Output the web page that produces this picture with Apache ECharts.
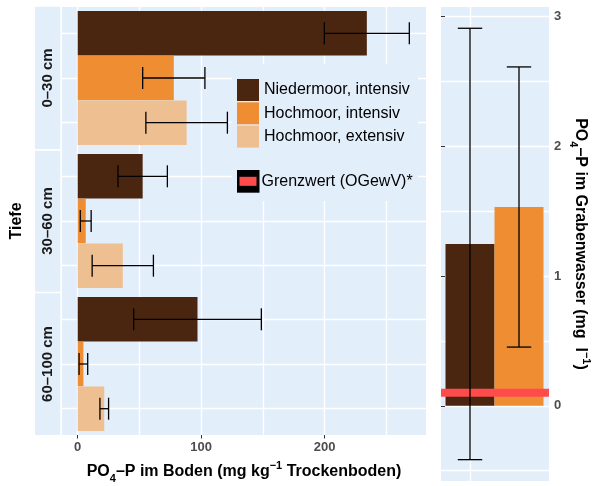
<!DOCTYPE html>
<html>
<head>
<meta charset="utf-8">
<script src="https://cdn.jsdelivr.net/npm/echarts@6/dist/echarts.min.js"></script>
<style>
html,body{margin:0;padding:0;background:#fff;}
#chart{width:592px;height:486px;}
</style>
</head>
<body>
<div id="chart"></div>
<script>
// ---- data ----
const depthLabels = ['0–30 cm', '30–60 cm', '60–100 cm'];
const moorTypes = ['Niedermoor, intensiv', 'Hochmoor, intensiv', 'Hochmoor, extensiv'];
// soil PO4-P (mg/kg) per depth
const soilNieder = [234.1, 52.6, 97.0];
const soilNiederErr = [34.4, 20.0, 51.7];
const soilHochInt = [77.8, 6.5, 4.6];
const soilHochIntErr = [25.2, 4.4, 3.5];
const soilHochExt = [88.2, 36.5, 21.5];
const soilHochExtErr = [33.0, 24.8, 3.5];
// ditch water PO4-P (mg/l)
const waterTypes = ['Niedermoor, intensiv', 'Hochmoor, intensiv'];
const waterMean = [1.247, 1.532];
const waterErr = [1.663, 1.08];
const grenzwert = 0.1;
const grenzwertName = 'Grenzwert (OGewV)*';
const soilTicks = [0, 100, 200];
const waterTicks = [0, 1, 2, 3];

// ---- styles ----
const FONT = '"Liberation Sans", Arial, Helvetica, sans-serif';
const BG = '#E3EEFB';
const COLORS = ['#4A2611', '#EE8D31', '#EEBF90'];
const RED = '#FF4B4B';
const GRIDW = 1.4;

const soilMeans = [soilNieder, soilHochInt, soilHochExt];
const soilErrs = [soilNiederErr, soilHochIntErr, soilHochExtErr];

const facetTops = [33.3, 176.3, 319.3];
const facetH = 89.4;

const grids = [
  {left: 62, top: 7, width: 364, height: 428, show: true, backgroundColor: BG, borderWidth: 0},   // 0 bg left
  {left: 77.7, top: 7, width: 308.75, height: 428},   // 1 vertical gridlines
  {left: 77.7, top: 7, width: 247, height: 428},      // 2 ticks + labels
];
facetTops.forEach(t => grids.push({left: 62, top: t, width: 364, height: facetH})); // 3,4,5
grids.push({left: 441, top: 7, width: 108, height: 474, show: true, backgroundColor: BG, borderWidth: 0}); // 6 bg right
grids.push({left: 441, top: 16.7, width: 108, height: 453.95}); // 7 horizontal gridlines
grids.push({left: 441, top: 16.7, width: 108, height: 389.1});  // 8 ticks + labels
grids.push({left: 470, top: 7, width: 49, height: 474});        // 9 bars
grids.forEach(g => { g.containLabel = false; g.outerBoundsMode = 'none'; });

const hidden = {axisLine: {show: false}, axisTick: {show: false}, axisLabel: {show: false}};
const white = {show: true, lineStyle: {color: '#FFFFFF', width: GRIDW}};

const xAxes = [
  {gridIndex: 0, type: 'value', show: false},
  Object.assign({gridIndex: 1, type: 'value', min: 0, max: 250, interval: 50, splitLine: white}, hidden),
  {gridIndex: 2, type: 'value', min: 0, max: 200, interval: 100, position: 'bottom',
   axisLine: {show: false}, splitLine: {show: false},
   axisTick: {show: true, length: 3.5, lineStyle: {color: '#333333', width: 1}},
   axisLabel: {color: '#4D4D4D', fontWeight: 'bold', fontSize: 13, margin: 6, fontFamily: FONT,
               formatter: v => soilTicks.indexOf(v) >= 0 ? String(v) : ''}},
];
const yAxes = [
  {gridIndex: 0, type: 'value', show: false},
  {gridIndex: 1, type: 'value', show: false},
  {gridIndex: 2, type: 'value', show: false},
];
for (let f = 0; f < 3; f++) {
  xAxes.push({gridIndex: 3 + f, type: 'value', min: -12.71, max: 282.0, show: false});
  yAxes.push(Object.assign({gridIndex: 3 + f, type: 'category', data: moorTypes, inverse: true,
    boundaryGap: false, splitLine: white}, hidden));
}
xAxes.push({gridIndex: 6, type: 'value', show: false});
yAxes.push({gridIndex: 6, type: 'value', show: false});
xAxes.push({gridIndex: 7, type: 'value', min: 0, max: 1, show: false});
yAxes.push(Object.assign({gridIndex: 7, type: 'value', min: -0.5, max: 3, interval: 0.5, splitLine: white}, hidden));
xAxes.push({gridIndex: 8, type: 'value', show: false});
yAxes.push({gridIndex: 8, type: 'value', min: 0, max: 3, interval: 1, position: 'right',
  axisLine: {show: false}, splitLine: {show: false},
  axisTick: {show: true, length: 4, lineStyle: {color: '#333333', width: 1}},
  axisLabel: {color: '#4D4D4D', fontWeight: 'bold', fontSize: 13, margin: 5, fontFamily: FONT,
              formatter: v => waterTicks.indexOf(v) >= 0 ? String(v) : ''}});
xAxes.push(Object.assign({gridIndex: 9, type: 'category', data: waterTypes, boundaryGap: false, splitLine: white}, hidden));
yAxes.push({gridIndex: 9, type: 'value', min: -0.5806, max: 3.074, show: false});

const series = [];
// soil bars
for (let f = 0; f < 3; f++) {
  for (let j = 0; j < 3; j++) {
    series.push({
      type: 'bar', name: moorTypes[j], xAxisIndex: 3 + f, yAxisIndex: 3 + f,
      data: moorTypes.map((_, k) => k === j ? soilMeans[j][f] : '-'),
      barWidth: 44.6, barGap: '-100%', clip: false, silent: true, z: 2,
      itemStyle: {color: COLORS[j]}
    });
  }
}
// water bars
waterTypes.forEach((name, j) => {
  series.push({
    type: 'bar', name: name, xAxisIndex: 9, yAxisIndex: 9,
    data: waterTypes.map((_, k) => k === j ? waterMean[j] : '-'),
    barWidth: 49, barGap: '-100%', clip: false, silent: true, z: 2,
    itemStyle: {color: COLORS[j]}
  });
});
// Grenzwert line
series.push({
  type: 'custom', name: grenzwertName, xAxisIndex: 7, yAxisIndex: 7, z: 3, silent: true,
  itemStyle: {color: RED},
  data: [[0, grenzwert]], encode: {x: 0, y: 1},
  renderItem: (params, api) => {
    const y = api.coord([0, api.value(1)])[1];
    const cs = params.coordSys;
    return {type: 'rect', shape: {x: cs.x, y: y - 4, width: cs.width, height: 8}, style: {fill: RED}};
  }
});
const ebStyle = {stroke: '#000000', lineWidth: 1.3};
// soil error bars
for (let f = 0; f < 3; f++) {
  series.push({
    type: 'custom', xAxisIndex: 3 + f, yAxisIndex: 3 + f, z: 4, silent: true,
    data: moorTypes.map((_, j) => [soilMeans[j][f] - soilErrs[j][f], soilMeans[j][f] + soilErrs[j][f], j]),
    encode: {x: [0, 1], y: 2},
    renderItem: (params, api) => {
      const lo = api.coord([api.value(0), api.value(2)]);
      const hi = api.coord([api.value(1), api.value(2)]);
      const h = 11;
      return {type: 'group', children: [
        {type: 'line', shape: {x1: lo[0], y1: lo[1], x2: hi[0], y2: hi[1]}, style: ebStyle},
        {type: 'line', shape: {x1: lo[0], y1: lo[1] - h, x2: lo[0], y2: lo[1] + h}, style: ebStyle},
        {type: 'line', shape: {x1: hi[0], y1: hi[1] - h, x2: hi[0], y2: hi[1] + h}, style: ebStyle}
      ]};
    }
  });
}
// water error bars
series.push({
  type: 'custom', xAxisIndex: 9, yAxisIndex: 9, z: 4, silent: true,
  data: waterTypes.map((_, j) => [j, waterMean[j] - waterErr[j], waterMean[j] + waterErr[j]]),
  encode: {x: 0, y: [1, 2]},
  renderItem: (params, api) => {
    const lo = api.coord([api.value(0), api.value(1)]);
    const hi = api.coord([api.value(0), api.value(2)]);
    const w = 12.2;
    return {type: 'group', children: [
      {type: 'line', shape: {x1: lo[0], y1: lo[1], x2: hi[0], y2: hi[1]}, style: ebStyle},
      {type: 'line', shape: {x1: lo[0] - w, y1: lo[1], x2: lo[0] + w, y2: lo[1]}, style: ebStyle},
      {type: 'line', shape: {x1: hi[0] - w, y1: hi[1], x2: hi[0] + w, y2: hi[1]}, style: ebStyle}
    ]};
  }
});

const rich = {
  b: {fontSize: 16, fontWeight: 'bold', fontFamily: FONT, fill: '#000', color: '#000', lineHeight: 24, verticalAlign: 'middle'},
  s: {fontSize: 11, fontWeight: 'bold', fontFamily: FONT, fill: '#000', color: '#000', lineHeight: 14, verticalAlign: 'bottom'},
  p: {fontSize: 11, fontWeight: 'bold', fontFamily: FONT, fill: '#000', color: '#000', lineHeight: 14, verticalAlign: 'top'}
};

const stripRects = [[6.7, 142.3], [150.7, 141], [293.3, 141.7]];
const stripCenters = [78, 221, 364];
const graphics = [
  {type: 'rect', z: 1, silent: true, shape: {x: 232, y: 64, width: 186, height: 137}, style: {fill: BG}},
  {type: 'rect', z: 5, silent: true, shape: {x: 237, y: 170, width: 22.5, height: 22.7}, style: {fill: '#000'}},
  {type: 'text', x: 16.7, y: 221, rotation: Math.PI / 2, silent: true,
   style: {text: 'Tiefe', font: 'bold 16px ' + FONT, fill: '#000', align: 'center', verticalAlign: 'middle'}},
  {type: 'text', x: 244, y: 472, silent: true,
   style: {text: '{b|PO}{s|4}{b|–P im Boden (mg kg}{p|−1}{b| Trockenboden)}', rich: rich,
           align: 'center', verticalAlign: 'middle'}},
  {type: 'text', x: 580, y: 244, rotation: -Math.PI / 2, silent: true,
   style: {text: '{b|PO}{s|4}{b|–P im Grabenwasser (mg  l}{p|−1}{b|)}', rich: rich,
           align: 'center', verticalAlign: 'middle'}}
];
depthLabels.forEach((lab, i) => {
  graphics.push({type: 'rect', z: 0, silent: true,
    shape: {x: 35, y: stripRects[i][0], width: 25.3, height: stripRects[i][1]}, style: {fill: BG}});
  graphics.push({type: 'text', x: 47.7, y: stripCenters[i], rotation: Math.PI / 2, silent: true,
    style: {text: lab, font: 'bold 15px ' + FONT, fill: '#1A1A1A', align: 'center', verticalAlign: 'middle'}});
});

const option = {
  animation: false,
  backgroundColor: '#FFFFFF',
  grid: grids,
  xAxis: xAxes,
  yAxis: yAxes,
  legend: [
    {data: moorTypes, orient: 'vertical', left: 237, top: 79, itemWidth: 22, itemHeight: 22, itemGap: 1.3,
     icon: 'rect', selectedMode: false, padding: 0, z: 6,
     textStyle: {fontSize: 16, color: '#000', fontFamily: FONT}},
    {data: [grenzwertName], orient: 'vertical', left: 239.5, top: 173.3, itemWidth: 17, itemHeight: 9,
     icon: 'rect', selectedMode: false, padding: 0, z: 6,
     textStyle: {fontSize: 16, color: '#000', fontFamily: FONT}}
  ],
  graphic: {elements: graphics},
  series: series
};

const chart = echarts.init(document.getElementById('chart'), null, {renderer: 'canvas'});
chart.setOption(option);
</script>
</body>
</html>
